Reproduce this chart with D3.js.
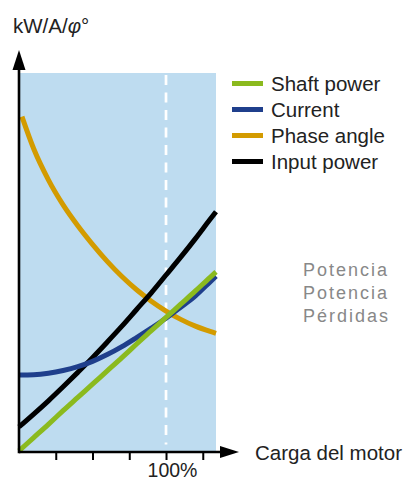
<!DOCTYPE html>
<html>
<head>
<meta charset="utf-8">
<script src="https://cdn.jsdelivr.net/npm/d3@7"></script>
<style>
  html, body { margin: 0; padding: 0; background: #ffffff; }
  svg { display: block; }
  text { font-family: "Liberation Sans", Arial, sans-serif; }
</style>
</head>
<body>
<svg id="chart" width="406" height="481"></svg>
<script>
// ---- data (load in %, values in relative units 0-100) ----
const loads        = [0, 10, 20, 30, 40, 50, 60, 70, 80, 90, 100, 110, 120, 130, 134];
const shaftPower   = [0.3, 3.8, 7.3, 10.9, 14.4, 17.9, 21.4, 24.9, 28.5, 32.0, 35.5, 39.0, 42.5, 46.1, 47.5];
const current      = [20.3, 20.4, 20.8, 21.5, 22.5, 23.9, 25.7, 27.8, 30.2, 32.7, 35.3, 38.2, 41.2, 44.9, 46.4];
const inputPower   = [6.6, 10.0, 13.5, 17.2, 21.0, 24.9, 29.0, 33.2, 37.6, 42.0, 46.7, 51.4, 56.3, 61.4, 63.4];
const phaseLoads   = [2, 10, 20, 30, 40, 50, 60, 70, 80, 90, 100, 110, 120, 130, 134];
const phaseAngle   = [88.5, 80.0, 71.8, 65.2, 59.7, 54.8, 50.3, 46.3, 42.8, 39.8, 37.2, 35.0, 33.2, 31.8, 31.3];
const tickLoads    = [25, 50, 75, 100, 125];
const seriesNames  = ["Shaft power", "Current", "Phase angle", "Input power"];
const seriesColors = ["#8bba1e", "#1f3f8c", "#d39b00", "#000000"];
const yAxisTitle   = "kW/A/";
const xAxisTitle   = "Carga del motor";
const noteLines    = ["Potencia", "Potencia", "Pérdidas"];

const svg = d3.select("#chart");
const x = d3.scaleLinear().domain([0, 134]).range([19, 216]);
const y = d3.scaleLinear().domain([0, 100]).range([452, 73]);

// plot background
svg.append("rect")
  .attr("x", x(0)).attr("y", y(100))
  .attr("width", x(134) - x(0)).attr("height", y(0) - y(100))
  .attr("fill", "#bedcf0");

// dashed 100% line
svg.append("line")
  .attr("x1", x(100)).attr("x2", x(100))
  .attr("y1", y(99.5)).attr("y2", y(2))
  .attr("stroke", "#ffffff").attr("stroke-width", 2.7)
  .attr("stroke-dasharray", "10,7.5");

// series lines
const allSeries = [
  { xs: loads, ys: shaftPower },
  { xs: loads, ys: current },
  { xs: phaseLoads, ys: phaseAngle },
  { xs: loads, ys: inputPower }
];
const line = d3.line().x(d => x(d[0])).y(d => y(d[1])).curve(d3.curveMonotoneX);
const drawOrder = [2, 3, 1, 0];
drawOrder.forEach(i => {
  const s = allSeries[i];
  svg.append("path")
    .datum(s.xs.map((v, k) => [v, s.ys[k]]))
    .attr("d", line)
    .attr("fill", "none")
    .attr("stroke", seriesColors[i])
    .attr("stroke-width", 5);
});

// x axis with ticks
const xAxis = d3.axisBottom(x)
  .tickValues(tickLoads)
  .tickSize(8)
  .tickFormat(d => d === 100 ? "100%" : "");
const gx = svg.append("g").attr("transform", `translate(0,${y(0)})`).call(xAxis);
gx.select(".domain").remove();
gx.selectAll(".tick line").attr("stroke", "#000").attr("stroke-width", 2);
gx.selectAll(".tick text")
  .attr("font-size", 19.5).attr("fill", "#222")
  .attr("font-family", "Liberation Sans, Arial, sans-serif")
  .attr("dy", 0).attr("y", 24.5).attr("dx", 6);

// axis lines with arrows
svg.append("line").attr("x1", x(0)).attr("x2", 222).attr("y1", y(0)).attr("y2", y(0))
  .attr("stroke", "#000").attr("stroke-width", 2.6);
svg.append("path").attr("d", `M239,${y(0)} L220,${y(0) - 6} L220,${y(0) + 6} Z`).attr("fill", "#000");
svg.append("line").attr("x1", x(0)).attr("x2", x(0)).attr("y1", y(0) + 1.3).attr("y2", 68)
  .attr("stroke", "#000").attr("stroke-width", 2.6);
svg.append("path").attr("d", `M${x(0)},50 L${x(0) - 6.5},70 L${x(0) + 6.5},70 Z`).attr("fill", "#000");

// axis titles
const yt = svg.append("text").attr("x", 13).attr("y", 33)
  .attr("font-size", 20.5).attr("fill", "#222").text(yAxisTitle);
yt.append("tspan").attr("font-style", "italic").text("φ");
yt.append("tspan").text("°");
svg.append("text").attr("x", 255).attr("y", 460)
  .attr("font-size", 20.5).attr("fill", "#222").text(xAxisTitle);

// legend
seriesNames.forEach((name, i) => {
  const ly = 83.5 + i * 26;
  svg.append("line").attr("x1", 232).attr("x2", 263).attr("y1", ly).attr("y2", ly)
    .attr("stroke", seriesColors[i]).attr("stroke-width", 5);
  svg.append("text").attr("x", 271).attr("y", ly + 7)
    .attr("font-size", 20.5).attr("fill", "#222").text(name);
});

// handwritten-style note
noteLines.forEach((t, i) => {
  svg.append("text").attr("x", 303).attr("y", 276 + i * 23)
    .attr("font-family", "DejaVu Sans, sans-serif")
    .attr("font-weight", 200)
    .attr("letter-spacing", 2)
    .attr("font-size", 18).attr("fill", "#888").text(t);
});
</script>
</body>
</html>
